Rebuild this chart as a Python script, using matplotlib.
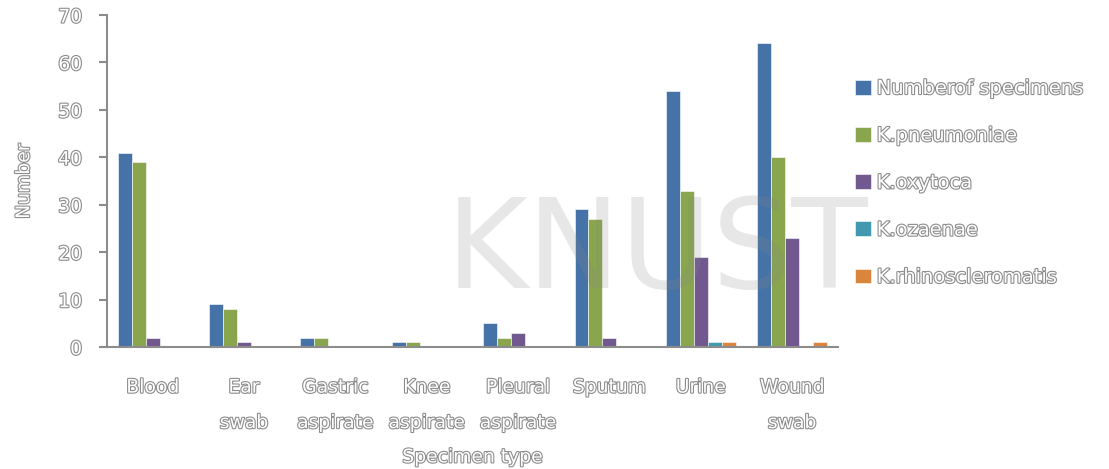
import matplotlib.pyplot as plt
import matplotlib.patheffects as pe
import numpy as np

# categorias e séries
categorias = ['Blood', 'Ear\nswab', 'Gastric\naspirate', 'Knee\naspirate', 'Pleural\naspirate',
              'Sputum', 'Urine', 'Wound\nswab']
series = ['Numberof specimens', 'K.pneumoniae', 'K.oxytoca', 'K.ozaenae', 'K.rhinoscleromatis']
n_especimes = [41, 9, 2, 1, 5, 29, 54, 64]
k_pneumoniae = [39, 8, 2, 1, 2, 27, 33, 40]
k_oxytoca = [2, 1, 0, 0, 3, 2, 19, 23]
k_ozaenae = [0, 0, 0, 0, 0, 0, 1, 0]
k_rhino = [0, 0, 0, 0, 0, 0, 1, 1]
cores = ['#4572A7', '#89A54E', '#71588F', '#4198AF', '#DB843D']

valores = [n_especimes, k_pneumoniae, k_oxytoca, k_ozaenae, k_rhino]

# efeito de texto vazado (contorno cinza)
contorno = [pe.withStroke(linewidth=1.6, foreground='#8c8c8c')]

fig = plt.figure(figsize=(11.09, 4.69), dpi=100)
ax = fig.add_axes([0.0965, 0.26, 0.659, 0.708])

x = np.arange(len(categorias))
w = 0.153
for i, (nome, v) in enumerate(zip(series, valores)):
    ax.bar(x - 2 * w + i * w, v, w, color=cores[i], label=nome,
           edgecolor='white', linewidth=0.4)

ax.set_xlim(-0.5, len(categorias) - 0.5)
ax.set_ylim(0, 70)
ax.set_yticks(range(0, 71, 10))
ax.set_xticks(x)
ax.set_xticklabels(categorias, color='white', fontsize=13.5, path_effects=contorno,
                   linespacing=2.1)
ax.tick_params(axis='x', length=0, pad=22)
ax.tick_params(axis='y', length=6, width=1.5, color='#8c8c8c', direction='out', pad=12)
for t in ax.get_yticklabels():
    t.set_color('white')
    t.set_fontsize(13.5)
    t.set_path_effects(contorno)

for s in ['top', 'right']:
    ax.spines[s].set_visible(False)
for s in ['left', 'bottom']:
    ax.spines[s].set_color('#8c8c8c')
    ax.spines[s].set_linewidth(1.5)

ax.set_xlabel('Specimen type', color='white', fontsize=13.5, path_effects=contorno, labelpad=11)
ax.set_ylabel('Number', color='white', fontsize=13.5, path_effects=contorno, labelpad=18)

# marca d'água
fig.text(657 / 1109, 1 - 288 / 469, 'KNUST', fontsize=90, color='#888888', alpha=0.2,
         ha='center', va='baseline', zorder=10)

leg = ax.legend(loc='upper left', bbox_to_anchor=(1.0, 0.86), frameon=False,
                fontsize=14, handlelength=0.8, handleheight=0.8, labelspacing=1.45,
                handletextpad=0.3)
for t in leg.get_texts():
    t.set_color('white')
    t.set_path_effects(contorno)

plt.savefig('out.png')
